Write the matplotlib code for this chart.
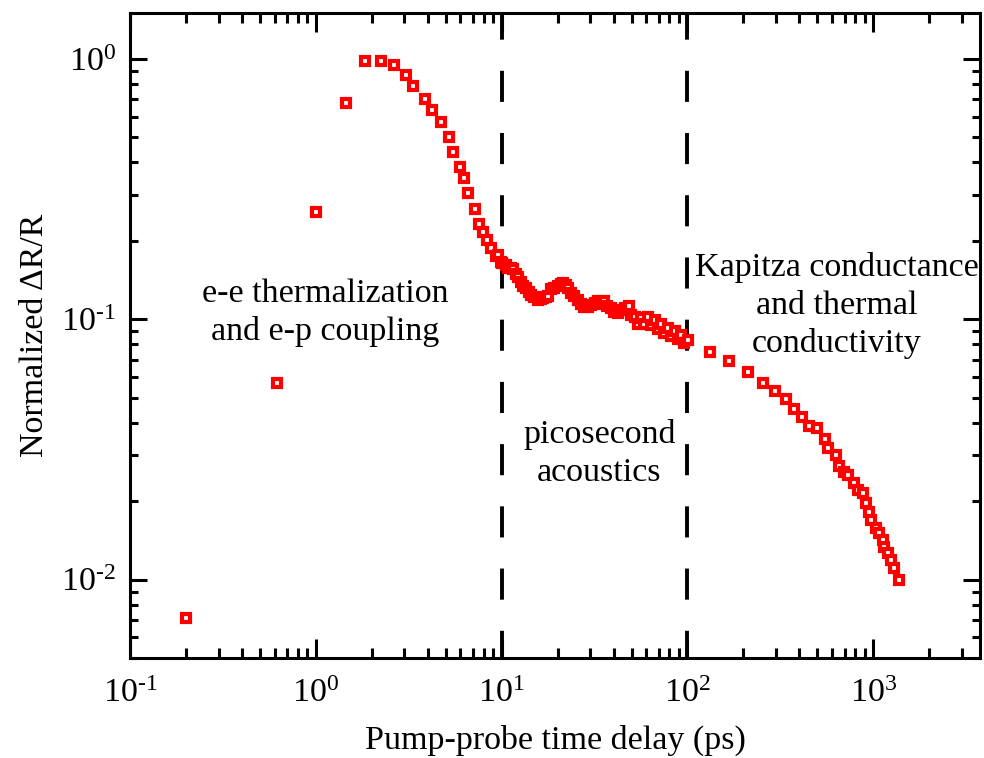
import matplotlib
matplotlib.use("Agg")
import matplotlib.pyplot as plt
from matplotlib.ticker import FuncFormatter
import numpy as np

# pump-probe delay (ps) and normalized dR/R
delay_ps = [0.2, 0.62, 1.0, 1.46, 1.85, 2.23, 2.65, 3.04, 3.35, 3.89,
            4.24, 4.69, 5.18, 5.44, 5.94, 6.24, 6.56, 7.15, 7.51, 7.9,
            8.3, 8.73, 9.29, 9.6, 9.88,
            10.1, 10.5, 10.8, 11.2, 11.5, 11.9, 12.2, 12.65, 13.1, 13.5,
            14.0, 14.3, 14.9, 15.6, 16.2, 16.6, 17.3, 17.7, 18.4, 19.1,
            20.0, 20.8, 21.3, 22.1, 22.7, 23.6, 24.4, 25.7, 26.7, 27.7,
            29.1, 30.2, 31.7, 32.9, 34.2, 35.5, 36.8, 38.7, 40.2, 42.2,
            43.8, 46.0, 48.4, 49.6, 52.1, 54.1, 56.1, 58.3, 61.2, 63.5,
            66.8, 69.3, 71.9, 74.6, 78.5, 81.5, 85.7, 88.9, 92.3, 95.8,
            100.7,
            132, 167, 212, 255, 296, 340, 375, 414, 452, 499,
            551, 572, 632, 656, 698, 733, 790, 830, 884, 917,
            951, 975, 1038, 1077, 1132, 1146, 1204, 1250, 1298, 1380]
norm_dr = [0.0071, 0.0568, 0.257, 0.675, 0.978, 0.978, 0.944, 0.865, 0.784, 0.699,
           0.634, 0.57, 0.5, 0.438, 0.383, 0.348, 0.305, 0.264, 0.232, 0.216,
           0.201, 0.187, 0.175, 0.177, 0.166,
           0.164, 0.161, 0.157, 0.158, 0.1555, 0.149, 0.145, 0.1387, 0.134, 0.1315,
           0.127, 0.1236, 0.1214, 0.1183, 0.1194, 0.1204, 0.1214, 0.1225, 0.1303, 0.1315,
           0.134, 0.136, 0.1375, 0.135, 0.1315, 0.126, 0.1225, 0.1183, 0.114, 0.111,
           0.111, 0.113, 0.115, 0.117, 0.114, 0.118, 0.112, 0.110, 0.107, 0.1055,
           0.1083, 0.110, 0.112, 0.1036, 0.1018, 0.0957, 0.101, 0.0957, 0.1018, 0.0948,
           0.0991, 0.0916, 0.0957, 0.0883, 0.0923, 0.0861, 0.0899, 0.0838, 0.0868, 0.0809,
           0.083,
           0.0747, 0.069, 0.0626, 0.0568, 0.053, 0.0493, 0.0451, 0.0421, 0.0388, 0.0382,
           0.0346, 0.032, 0.030, 0.0273, 0.0259, 0.0252, 0.0235, 0.0221, 0.0215, 0.0197,
           0.0182, 0.0169, 0.0158, 0.0151, 0.0142, 0.0133, 0.0126, 0.0119, 0.0111, 0.00995]

regime_bounds = [10, 100]
regime_labels = ["e-e thermalization\nand e-p coupling",
                 "picosecond\nacoustics",
                 "Kapitza conductance\nand thermal\nconductivity"]
label_pos = [(1.12, 0.106), (33.5, 0.0306), (635, 0.113)]

plt.rcParams['font.family'] = ['Liberation Serif', 'DejaVu Serif']
plt.rcParams['mathtext.fontset'] = 'custom'
plt.rcParams['mathtext.rm'] = 'Liberation Serif'
plt.rcParams['mathtext.default'] = 'regular'
plt.rcParams['axes.unicode_minus'] = False


def pow10(v, pos):
    e = int(round(np.log10(v)))
    exp = r'\text{-}%d' % abs(e) if e < 0 else '%d' % e
    return r'$10^{%s}$' % exp


fig = plt.figure(figsize=(9.84, 7.58), dpi=100)
ax = fig.add_axes([130/984, 100/758, 850/984, 645/758])

ax.plot(delay_ps, norm_dr, ls='none', marker='s', ms=5.8, mew=3.0,
        mec='#ff0000', mfc='white', zorder=3)

for b in regime_bounds:
    ax.axvline(b, color='black', lw=2.8, ls=(1.0, (8, 8)), zorder=2)

for txt, (x, y) in zip(regime_labels, label_pos):
    ax.text(x, y, txt, ha='center', va='center', fontsize=24.5, linespacing=1.32)

ax.set_xscale('log')
ax.set_yscale('log')
ax.set_xlim(0.1, 3750)
ax.set_ylim(0.005, 1.5)
ax.xaxis.set_major_formatter(FuncFormatter(pow10))
ax.yaxis.set_major_formatter(FuncFormatter(pow10))

ax.set_xlabel('Pump-probe time delay (ps)', fontsize=24.5, labelpad=11)
ax.set_ylabel('Normalized ΔR/R', fontsize=24.5, labelpad=8)

for s in ax.spines.values():
    s.set_linewidth(2.2)
ax.tick_params(which='both', direction='in', top=True, right=True,
               width=2.2, labelsize=24.5)
ax.tick_params(axis='x', which='major', length=14, pad=15)
ax.tick_params(axis='x', which='minor', length=7.5)
ax.tick_params(axis='y', which='major', length=12, pad=10)
ax.tick_params(axis='y', which='minor', length=6)

fig.savefig('out.png', dpi=100)
